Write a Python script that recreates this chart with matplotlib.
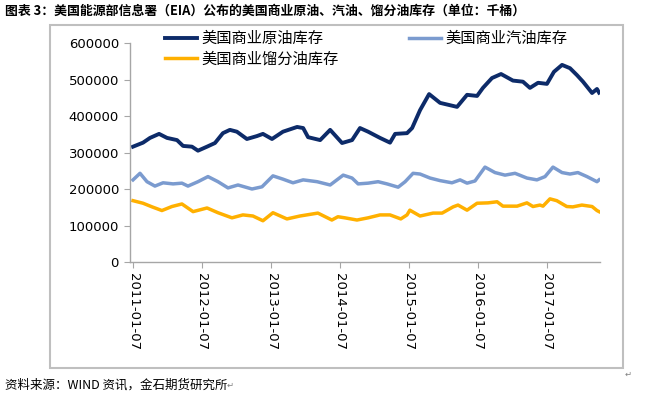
import matplotlib
matplotlib.use("Agg")
import matplotlib.pyplot as plt
import matplotlib.dates as mdates
from matplotlib.patches import Rectangle
import pandas as pd

plt.rcParams['font.family'] = ['Noto Sans CJK SC', 'DejaVu Sans']

# values in 千桶 (thousand barrels)
crude_dates = ["2011-01-07", "2011-03-01", "2011-04-07", "2011-05-25", "2011-07-06", "2011-08-28",
               "2011-09-29", "2011-11-15", "2011-12-17", "2012-02-03", "2012-03-16", "2012-04-27",
               "2012-06-03", "2012-07-10", "2012-09-01", "2012-10-24", "2012-11-25", "2013-01-12",
               "2013-03-11", "2013-05-25", "2013-06-26", "2013-07-22", "2013-09-24", "2013-11-16",
               "2014-01-18", "2014-03-12", "2014-04-23", "2014-06-05", "2014-08-07", "2014-09-29",
               "2014-10-26", "2014-12-28", "2015-01-24", "2015-03-07", "2015-04-24", "2015-06-21",
               "2015-09-19", "2015-11-11", "2016-01-03", "2016-02-03", "2016-03-22", "2016-05-09",
               "2016-07-11", "2016-09-02", "2016-10-09", "2016-11-21", "2017-01-07", "2017-02-13",
               "2017-03-28", "2017-05-09", "2017-06-15", "2017-07-17", "2017-09-03", "2017-09-29",
               "2017-10-10"]
crude = [316, 327, 340, 351, 340, 334, 318, 316, 305, 316, 326, 353,
         362, 357, 337, 345, 351, 337, 357, 370, 367, 342, 334, 362,
         326, 334, 367, 357, 340, 327, 351, 353, 367, 416, 460, 436,
         425, 458, 455, 477, 504, 515, 497, 494, 477, 491, 488, 521,
         540, 531, 512, 494, 463, 474, 464]

gasoline_dates = ["2011-01-07", "2011-02-13", "2011-03-22", "2011-05-03", "2011-06-15", "2011-08-07",
                  "2011-09-23", "2011-10-25", "2011-12-17", "2012-02-08", "2012-04-01", "2012-05-24",
                  "2012-07-16", "2012-09-28", "2012-11-20", "2013-01-17", "2013-03-11", "2013-05-03",
                  "2013-06-26", "2013-09-08", "2013-11-16", "2014-01-24", "2014-03-12", "2014-04-13",
                  "2014-06-05", "2014-07-28", "2014-09-13", "2014-11-11", "2014-12-18", "2015-01-29",
                  "2015-03-07", "2015-04-29", "2015-06-21", "2015-08-23", "2015-10-05", "2015-11-11",
                  "2015-12-23", "2016-02-14", "2016-04-07", "2016-05-30", "2016-07-22", "2016-09-23",
                  "2016-11-15", "2016-12-28", "2017-02-08", "2017-03-28", "2017-05-09", "2017-06-20",
                  "2017-08-07", "2017-09-29", "2017-10-10"]
gasoline = [225, 243, 220, 208, 217, 214, 216, 208, 220, 234, 220, 203,
            211, 200, 206, 236, 227, 217, 225, 220, 211, 238, 230, 214,
            216, 220, 214, 205, 220, 243, 241, 230, 223, 217, 225, 216,
            222, 260, 245, 238, 243, 230, 225, 234, 260, 245, 241, 245,
            234, 220, 225]

distillate_dates = ["2011-01-07", "2011-03-01", "2011-04-18", "2011-06-09", "2011-08-01", "2011-09-23",
                    "2011-11-21", "2012-02-03", "2012-04-01", "2012-06-14", "2012-08-11", "2012-10-03",
                    "2012-11-25", "2013-01-17", "2013-04-01", "2013-06-09", "2013-09-12", "2013-11-25",
                    "2013-12-27", "2014-02-02", "2014-04-07", "2014-06-05", "2014-08-07", "2014-09-29",
                    "2014-11-25", "2014-12-28", "2015-01-12", "2015-03-07", "2015-05-15", "2015-07-02",
                    "2015-08-29", "2015-09-24", "2015-11-11", "2016-01-03", "2016-03-01", "2016-04-18",
                    "2016-05-19", "2016-08-02", "2016-09-23", "2016-10-25", "2016-12-01", "2016-12-17",
                    "2017-01-23", "2017-02-28", "2017-04-22", "2017-05-24", "2017-07-11", "2017-09-03",
                    "2017-09-29", "2017-10-10"]
distillate = [168, 161, 151, 141, 152, 159, 138, 148, 135, 121, 129, 126,
              113, 135, 118, 126, 134, 115, 124, 121, 115, 121, 129, 129,
              118, 129, 142, 126, 134, 134, 151, 156, 142, 161, 162, 165,
              153, 153, 162, 152, 156, 153, 173, 168, 152, 151, 156, 152,
              141, 138]

tick_dates = ["2011-01-07", "2012-01-07", "2013-01-07", "2014-01-07",
              "2015-01-07", "2016-01-07", "2017-01-07"]

title = "图表 3：美国能源部信息署（EIA）公布的美国商业原油、汽油、馏分油库存（单位：千桶）"
source = "资料来源：WIND 资讯，金石期货研究所"

fig = plt.figure(figsize=(6.48, 3.96), dpi=100)

# grey frame round the chart, as in the word document
fig.patches.append(Rectangle((50/648, 1-368/396), 573/648, 343/396, transform=fig.transFigure,
                             fill=False, edgecolor="#BFBFBF", linewidth=1.5))

ax = fig.add_axes([130/648, 1-262/396, 470/648, 219/396])

ax.plot(pd.to_datetime(crude_dates), [v*1000 for v in crude], color="#0D2B69", linewidth=2.8,
        label="美国商业原油库存")
ax.plot(pd.to_datetime(distillate_dates), [v*1000 for v in distillate], color="#FFB000", linewidth=2.5,
        label="美国商业馏分油库存")
ax.plot(pd.to_datetime(gasoline_dates), [v*1000 for v in gasoline], color="#7B9BCF", linewidth=2.5,
        label="美国商业汽油库存")

ax.set_ylim(0, 600000)
ax.set_yticks(range(0, 600001, 100000))
ax.set_xlim(pd.Timestamp("2010-12-22"), pd.Timestamp("2017-10-15"))
ax.set_xticks(pd.to_datetime(tick_dates))
ax.xaxis.set_major_formatter(mdates.DateFormatter("%Y-%m-%d"))

for s in ["top", "right"]:
    ax.spines[s].set_visible(False)
for s in ["left", "bottom"]:
    ax.spines[s].set_color("#A6A6A6")
    ax.spines[s].set_linewidth(1.0)

ax.tick_params(axis="y", length=4, color="#A6A6A6", pad=4, labelsize=9.5)
ax.tick_params(axis="x", length=4, color="#A6A6A6", pad=4, labelsize=9.5)
for lab in ax.get_yticklabels() + ax.get_xticklabels():
    lab.set_family("DejaVu Sans")
for lab in ax.get_xticklabels():
    lab.set_rotation(-90)

ax.legend(loc="upper left", ncol=2, frameon=False, fontsize=11,
          bbox_to_anchor=(165/648, 1-30/396), bbox_transform=fig.transFigure,
          borderpad=0, borderaxespad=0, handlelength=2.1, handletextpad=0.3,
          columnspacing=4.6, labelspacing=0.25)

fig.text(5/648, 1-11/396, title, fontsize=9.3, fontweight="bold", va="center", ha="left")
fig.text(5/648, 1-385/396, source, fontsize=9, va="center", ha="left")
fig.text(227/648, 1-385/396, "↵", fontsize=6, color="#808080", va="center", ha="left",
         family="DejaVu Sans")
fig.text(625/648, 1-374/396, "↵", fontsize=6, color="#808080", va="center", ha="left",
         family="DejaVu Sans")

fig.savefig("out.png", dpi=100)
